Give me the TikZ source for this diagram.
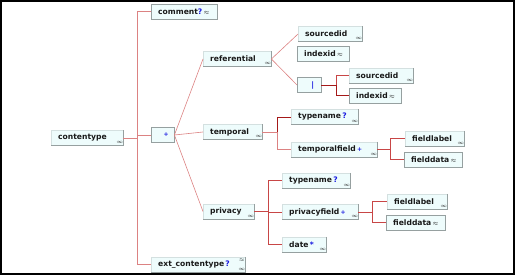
\documentclass[tikz,border=0pt]{standalone}
\usepackage{fontspec}
\setsansfont{DejaVu Sans}

\definecolor{boxfill}{RGB}{238,252,252}
\definecolor{boxline}{RGB}{150,160,160}
\definecolor{linkred}{RGB}{220,130,130}
\definecolor{midred}{RGB}{200,70,70}
\definecolor{darkred}{RGB}{165,25,25}
\definecolor{markblue}{RGB}{25,25,225}
\definecolor{txt}{RGB}{25,25,25}

% occurrence marks and content icon
\newcommand{\opt}{\textcolor{markblue}{?}}
\newcommand{\more}{\,\textcolor{markblue}{\fontsize{6}{6}\selectfont+}}
\newcommand{\many}{\,\textcolor{markblue}{*}}
\newcommand{\simpl}{\,{\fontsize{6}{6}\selectfont$\approx$}}

\tikzset{
    box/.style = {fill=boxfill, minimum height=15pt, inner xsep=0pt, inner ysep=0pt,
        text width=#1pt, align=left, anchor=west, text=txt,
        font=\sffamily\bfseries\fontsize{7.6}{9}\selectfont,
        execute at begin node={\hspace*{7pt}}},
    simple/.style = {box=#1, draw=boxline},
    cplx/.style = {box=#1, draw=boxfill!70!boxline},
    comp/.style = {box=#1, draw=boxline, align=center, execute at begin node={}},
    icon/.style = {inner sep=0pt, text=txt, font=\fontsize{4.5}{5}\selectfont},
    link/.style = {draw=linkred, line width=0.6pt},
    mid/.style = {draw=midred, line width=0.6pt},
    dark/.style = {draw=darkred, line width=0.7pt},
}

\begin{document}
\begin{tikzpicture}[x=1pt, y=-1pt]
    \useasboundingbox (0,0) rectangle (515,275);
    \draw[line width=1.2pt] (1,1) rectangle (514,274);

    % root and its sequence
    \node[cplx=72] (ct) at (51,138) {contentype};
    \node[simple=66] (cm) at (151,11.5) {comment\opt\simpl};
    \node[comp=23] (seq) at (151,135) {\textcolor{markblue}{\fontsize{6}{6}\selectfont+}};
    \node[cplx=94] (ext) at (151,264.5) {ext\_contentype\,\opt};

    % referential
    \node[cplx=68] (ref) at (203,59) {referential};
    \node[cplx=64] (sd1) at (298,34) {sourcedid};
    \node[simple=52] (ix1) at (297,54) {indexid\simpl};
    \node[comp=24] (ch) at (297,85) {\textcolor{markblue}{|}};
    \node[cplx=64] (sd2) at (349,75.5) {sourcedid};
    \node[simple=52] (ix2) at (349,95.5) {indexid\simpl};

    % temporal
    \node[cplx=59] (tmp) at (203,132) {temporal};
    \node[cplx=67] (tn1) at (291,117) {typename\,\opt};
    \node[cplx=86] (tf) at (291,149.5) {temporalfield\more};
    \node[cplx=59] (fl1) at (405,138.5) {fieldlabel};
    \node[simple=58] (fd1) at (404,159.5) {fielddata\simpl};

    % privacy
    \node[cplx=51] (prv) at (203,211.5) {privacy};
    \node[cplx=68] (tn2) at (282,180.5) {typename\,\opt};
    \node[cplx=76] (pf) at (282,212) {privacyfield\more};
    \node[cplx=44] (dt) at (282,244.5) {date\many};
    \node[cplx=60] (fl2) at (387,201.5) {fieldlabel};
    \node[simple=59] (fd2) at (386,222.5) {fielddata\simpl};

    % shadow edges and expand icons
    \foreach \n in {ct,ext,ref,sd1,sd2,tmp,tn1,tf,fl1,prv,tn2,pf,dt,fl2}{
        \draw[boxline] (\n.north east) |- (\n.south west);
        \node[icon] (\n-x) at ([xshift=-3.5pt,yshift=3pt]\n.south east) {$\infty$};
    }
    \node[icon] (ext-y) at ([xshift=-3.5pt,yshift=-3.5pt]ext.north east) {$\approx$};

    % connectors
    \coordinate (j0) at (137,138);
    \draw[link] (ct.east) -- (j0) (j0) |- (cm.west) (j0) |- (seq.west) (j0) |- (ext.west);
    \draw[link] (seq.east) -- (ref.west) (seq.east) -- (tmp.west) (seq.east) -- (prv.west);
    \draw[link] (ref.east) -- (sd1.west) (ref.east) -- (ch.west);

    \coordinate (j1) at (336,85);
    \draw[dark] (ch.east) -- (j1) |- (ix2.west);
    \draw[mid] (j1) |- (sd2.west);

    \coordinate (j2) at (277,132);
    \draw[link] (tmp.east) -- (j2) |- (tf.west);
    \draw[dark] (j2) |- (tn1.west);

    \coordinate (j3) at (390,149.5);
    \draw[mid] (tf.east) -- (j3) (j3) |- (fl1.west) (j3) |- (fd1.west);

    \coordinate (j4) at (268,211.5);
    \draw[mid] (prv.east) -- (j4) (j4) |- (tn2.west) (j4) |- (pf.west) (j4) |- (dt.west);

    \coordinate (j5) at (372,212);
    \draw[mid] (pf.east) -- (j5) (j5) |- (fl2.west) (j5) |- (fd2.west);
\end{tikzpicture}
\end{document}
